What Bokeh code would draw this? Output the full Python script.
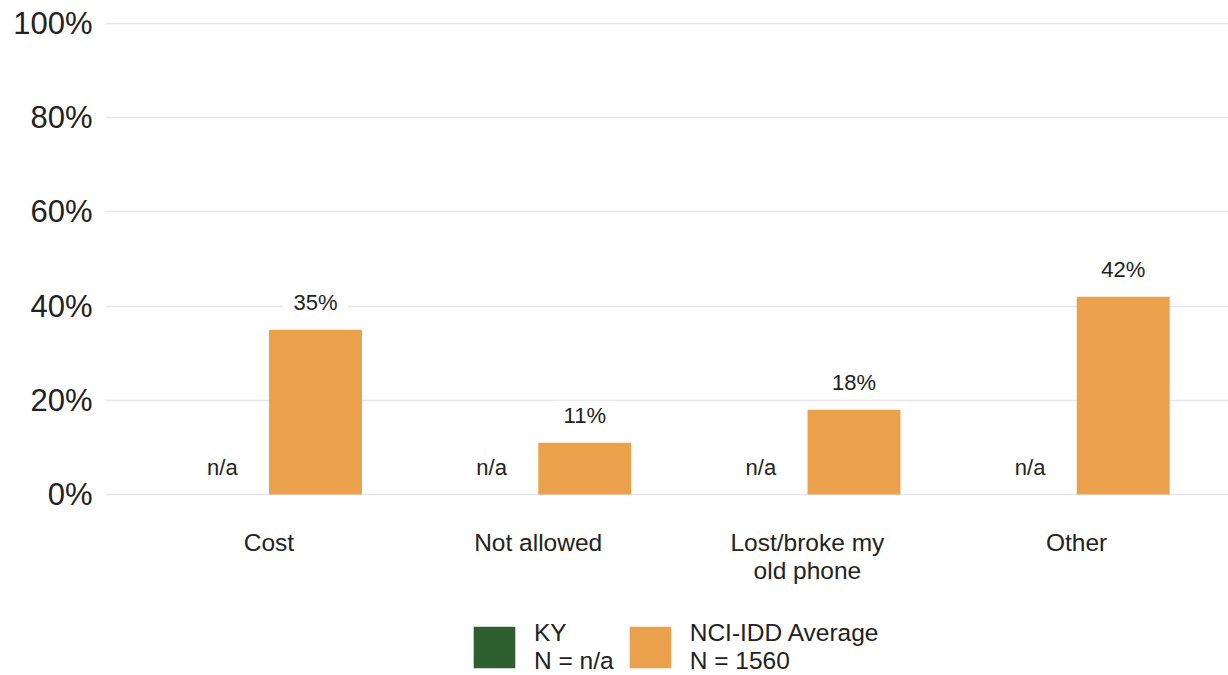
import numpy as np
from bokeh.plotting import figure
from bokeh.layouts import column
from bokeh.models import Range1d, FixedTicker, PrintfTickFormatter, Legend, LegendItem, ColumnDataSource
from bokeh.core.properties import value
from bokeh.embed import file_html
from bokeh.resources import INLINE

categories = ["Cost", "Not allowed", "Lost/broke my\nold phone", "Other"]
series_names = ["KY\nN = n/a", "NCI-IDD Average\nN = 1560"]
ky_values = [np.nan, np.nan, np.nan, np.nan]
nci_values = [35, 11, 18, 42]
y_ticks = [0, 20, 40, 60, 80, 100]

ky_color = "#2E5F30"
nci_color = "#EBA04C"
TEXT = "#222222"
FONT = "Liberation Sans"

x_idx = np.arange(len(categories)) + 0.5
off = 0.173
bw = 0.345

ky_labels = ["n/a" if np.isnan(v) else f"{v:.0f}%" for v in ky_values]
nci_labels = [f"{v:.0f}%" for v in nci_values]

src_ky = ColumnDataSource(dict(x=x_idx - off, top=ky_values,
                               ly=[0 if np.isnan(v) else v for v in ky_values], lab=ky_labels))
src_nci = ColumnDataSource(dict(x=x_idx + off, top=nci_values, ly=nci_values, lab=nci_labels))

p = figure(width=1228, height=615, output_backend="svg", toolbar_location=None,
           x_range=Range1d(-0.107, 4.064), y_range=Range1d(-0.2, 100.2))
p.min_border_left = 105
p.min_border_right = 0
p.min_border_top = 22
p.min_border_bottom = 120
p.outline_line_color = None
p.background_fill_color = "white"

r_ky = p.vbar(x="x", top="top", bottom=0, width=bw, source=src_ky, fill_color=ky_color, line_color=None)
r_nci = p.vbar(x="x", top="top", bottom=0, width=bw, source=src_nci, fill_color=nci_color, line_color=None)

for src in (src_ky, src_nci):
    p.text(x="x", y="ly", text="lab", source=src, text_align="center", text_baseline="bottom",
           y_offset=-13, text_font=value(FONT), text_font_size="22px", text_color=TEXT,
           background_fill_color="white", padding=(10, 2))

p.xgrid.grid_line_color = None
p.ygrid.grid_line_color = "#E6E6E6"
p.ygrid.grid_line_width = 1.5
p.ygrid.ticker = FixedTicker(ticks=y_ticks)

p.yaxis.ticker = FixedTicker(ticks=y_ticks)
p.yaxis.formatter = PrintfTickFormatter(format="%d%%")
p.yaxis.axis_line_color = None
p.yaxis.major_tick_line_color = None
p.yaxis.minor_tick_line_color = None
p.yaxis.major_label_text_font = FONT
p.yaxis.major_label_text_font_size = "31px"
p.yaxis.major_label_text_color = TEXT
p.yaxis.major_label_standoff = 7

p.xaxis.ticker = FixedTicker(ticks=list(x_idx))
p.xaxis.major_label_overrides = {float(x): c for x, c in zip(x_idx, categories)}
p.xaxis.axis_line_color = None
p.xaxis.major_tick_line_color = None
p.xaxis.minor_tick_line_color = None
p.xaxis.major_label_text_font = FONT
p.xaxis.major_label_text_font_size = "24.5px"
p.xaxis.major_label_text_color = TEXT
p.xaxis.major_label_text_line_height = 1.05
p.xaxis.major_label_standoff = 27

# legend strip below the chart (swatch renderers have zero-height bars)
lg = figure(width=1228, height=60, output_backend="svg", toolbar_location=None,
            x_range=Range1d(0, 1), y_range=Range1d(0, 1),
            x_axis_location=None, y_axis_location=None, min_border=0)
lg.outline_line_color = None
lg.grid.grid_line_color = None
lg.background_fill_color = "white"
lg.border_fill_color = "white"
g_ky = lg.vbar(x=[0.5], top=[0], bottom=0, width=0.01, fill_color=ky_color, line_color=None)
g_nci = lg.vbar(x=[0.5], top=[0], bottom=0, width=0.01, fill_color=nci_color, line_color=None)

legend = Legend(items=[LegendItem(label=series_names[0], renderers=[g_ky]),
                       LegendItem(label=series_names[1], renderers=[g_nci])],
                orientation="horizontal", location=(363, 0))
legend.border_line_color = None
legend.background_fill_alpha = 0
legend.glyph_width = 52
legend.glyph_height = 52
legend.label_standoff = 14
legend.spacing = 10
legend.padding = 0
legend.margin = 0
legend.label_text_font = FONT
legend.label_text_font_size = "24.5px"
legend.label_text_color = TEXT
legend.label_text_line_height = 1.02
lg.add_layout(legend, "center")

layout = column(p, lg, spacing=0)
open("out.html", "w").write(file_html(layout, INLINE))
